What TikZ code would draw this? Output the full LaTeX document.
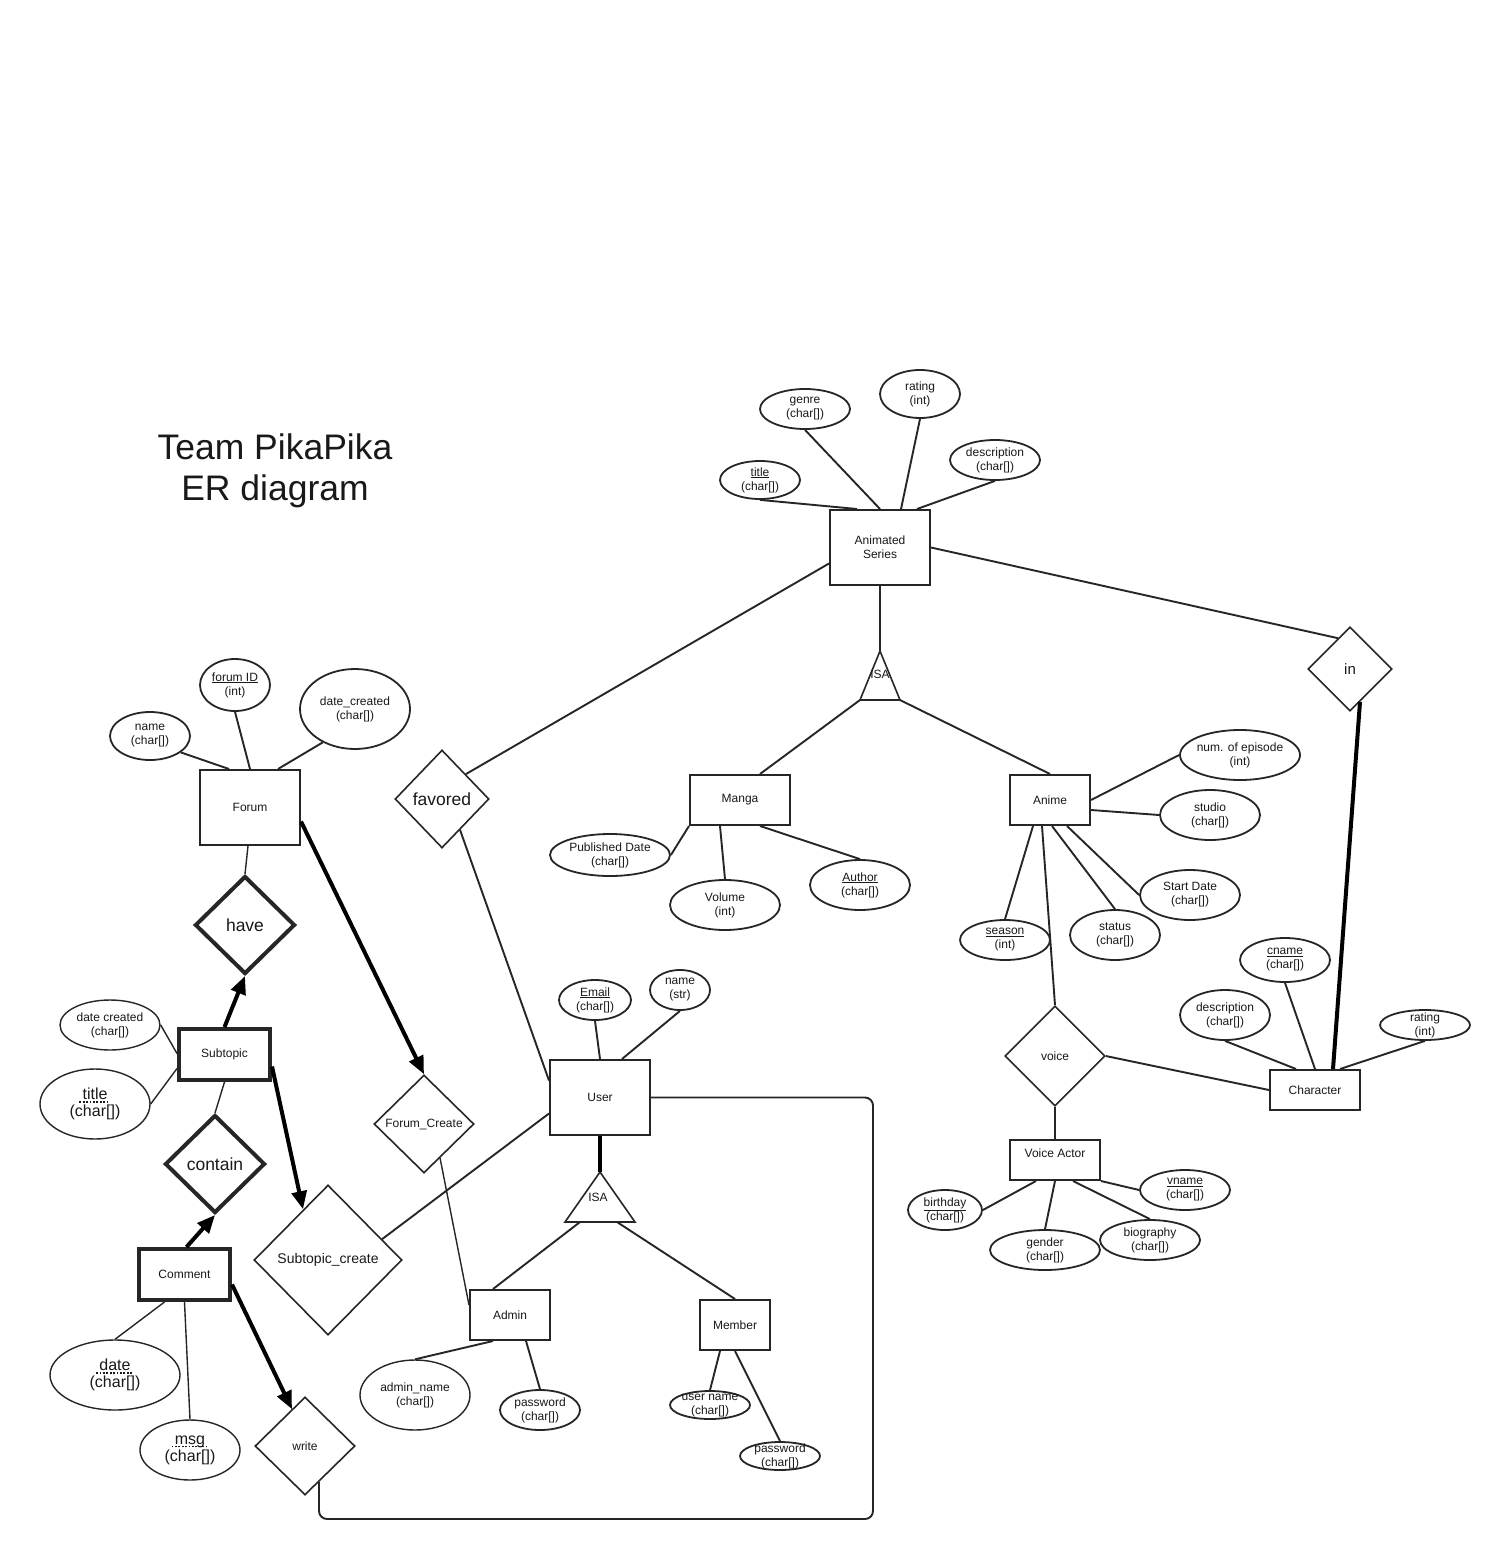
\documentclass[tikz,border=0pt]{standalone}
\usepackage{fontspec}
\setmainfont{Liberation Sans}
\usetikzlibrary{shapes.geometric,arrows.meta}
\newcommand\dotund[1]{\setbox0=\hbox{#1}\rlap{\kern-4pt\raisebox{-3.2pt}{\hbox to \dimexpr\wd0+8pt\relax{\leaders\hbox to 3.4pt{\hss\rule{1.8pt}{1.8pt}\hss}\hfill}}}\box0}
\newcommand\attrib[6][]{%
  \node[erattr,#1,minimum width=#4,minimum height=#5] (#2) at (#3) {};
  \node[align=center,#1] (#2t) at (#2) {#6};}
\begin{document}
\begin{tikzpicture}[x=1pt,y=-1pt,
  every node/.style={font=\fontsize{12}{14}\selectfont, text=black!90},
  erent/.style={rectangle, draw=black!85, line width=2pt, inner sep=0pt, align=center},
  wkent/.style={erent, line width=4pt},
  erattr/.style={ellipse, draw=black!85, line width=1.8pt, inner sep=0pt},
  thinattr/.style={line width=1.4pt},
  errel/.style={diamond, draw=black!85, line width=1.6pt, inner sep=0pt, align=center},
  bigrel/.style={errel, line width=4pt},
  erconn/.style={draw=black!85, line width=1.9pt},
  thinconn/.style={draw=black!85, line width=1.4pt},
  boldconn/.style={draw=black, line width=4pt},
  boldarr/.style={draw=black, line width=4pt, -{Triangle[length=18pt,width=15pt]}},
  isatri/.style={draw=black!85, line width=1.6pt, line join=miter},
  big/.style={font=\fontsize{17.5}{20}\selectfont},
  mid/.style={font=\fontsize{16}{17}\selectfont}
]
\path[use as bounding box, fill=white] (0,0) rectangle (1496,1544);

% title
\node[font=\fontsize{35.5}{41}\selectfont, align=center] (ttl) at (275,471) {Team PikaPika\\ER diagram};

% entities
\node[erent, minimum width=100, minimum height=75] (as) at (880,547.5) {Animated\\Series};
\node[erent, minimum width=100, minimum height=75] (forum) at (250,807.5) {Forum};
\node[erent, minimum width=100, minimum height=50] (manga) at (740,800) {Manga};
\node[erent, minimum width=80, minimum height=50] (anime) at (1050,800) {Anime};
\node[erent, minimum width=100, minimum height=75] (user) at (600,1097.5) {User};
\node[wkent, minimum width=91, minimum height=51] (sub) at (224.5,1054.5) {Subtopic};
\node[wkent, minimum width=91, minimum height=51] (com) at (184.5,1274.5) {Comment};
\node[erent, minimum width=80, minimum height=50] (admin) at (510,1315) {Admin};
\node[erent, minimum width=70, minimum height=50] (member) at (735,1325) {Member};
\node[erent, minimum width=90, minimum height=40] (ch) at (1315,1090) {Character};
\node[erent, minimum width=90, minimum height=40] (va) at (1055,1160) {};
\node (vat) at (1055,1153) {Voice Actor};

% relationships
\node[errel, minimum width=84, minimum height=84, font=\fontsize{15}{17}\selectfont] (inrel) at (1350,669) {in};
\node[errel, big, minimum width=94, minimum height=98] (fav) at (442,799) {favored};
\node[bigrel, big, minimum width=100, minimum height=98] (have) at (245,925) {have};
\node[bigrel, big, minimum width=100, minimum height=98] (contain) at (215,1164) {contain};
\node[errel, minimum width=100, minimum height=98] (fc) at (424,1124) {Forum\_Create};
\node[errel, font=\fontsize{14}{16}\selectfont, minimum width=148, minimum height=150] (sc) at (328,1260) {Subtopic\_create};
\node[errel, minimum width=100, minimum height=98] (write) at (305,1446) {write};
\node[errel, minimum width=100, minimum height=100] (voice) at (1055,1056) {voice};

% ISA triangles
\coordinate (isa1a) at (880,651);
\coordinate (isa1l) at (860,700);
\coordinate (isa1r) at (900,700);
\draw[isatri] (isa1a) -- (isa1l) -- (isa1r) -- cycle;
\node (isa1) at (880,674) {ISA};
\coordinate (isa2a) at (600,1172);
\coordinate (isa2l) at (565,1222);
\coordinate (isa2r) at (635,1222);
\coordinate (isa2p) at (580,1222);
\coordinate (isa2q) at (617,1222);
\draw[isatri] (isa2a) -- (isa2l) -- (isa2r) -- cycle;
\node (isa2) at (598,1197) {ISA};

% attributes
\attrib{title}{760,480}{80}{38}{\underline{title}\\(char[])}
\attrib{genre}{805,409}{90}{40}{genre\\(char[])}
\attrib{rating}{920,394}{80}{48}{rating\\(int)}
\attrib{desca}{995,460}{90}{40}{description\\(char[])}
\attrib{fname}{150,736}{80}{48}{name\\(char[])}
\attrib{fid}{235,685}{70}{52}{\underline{forum ID}\\(int)}
\attrib{fdate}{355,709}{110}{80}{date\_created\\(char[])}
\attrib{pdate}{610,855}{120}{42}{Published Date\\(char[])}
\attrib{vol}{725,905}{110}{50}{Volume\\(int)}
\attrib{author}{860,885}{100}{50}{\underline{Author}\\(char[])}
\attrib{nep}{1240,755}{120}{50}{num. of episode\\(int)}
\attrib{studio}{1210,815}{100}{50}{studio\\(char[])}
\attrib{sdt}{1190,895}{100}{50}{Start Date\\(char[])}
\attrib{stat}{1115,935}{90}{50}{status\\(char[])}
\attrib{season}{1005,940}{90}{40}{\underline{season}\\(int)}
\attrib{cname}{1285,960}{90}{44}{\underline{cname}\\(char[])}
\attrib{cdesc}{1225,1015}{90}{50}{description\\(char[])}
\attrib{crat}{1425,1025}{90}{30}{rating\\(int)}
\attrib{bday}{945,1210}{74}{40}{\underline{birthday}\\(char[])}
\attrib{gender}{1045,1250}{110}{40}{gender\\(char[])}
\attrib{bio}{1150,1240}{100}{40}{biography\\(char[])}
\attrib{vname}{1185,1190}{90}{40}{\underline{vname}\\(char[])}
\attrib[thinattr]{sdate}{110,1025}{100}{50}{date created\\(char[])}
\attrib[thinattr,mid]{stitle}{95,1104}{110}{70}{\dotund{title}\\(char[])}
\attrib[thinattr,mid]{cdate}{115,1375}{130}{70}{\dotund{date}\\(char[])}
\attrib[thinattr,mid]{msg}{190,1450}{100}{60}{\dotund{msg}\\(char[])}
\attrib[thinattr]{aname}{415,1395}{110}{70}{admin\_name\\(char[])}
\attrib{apw}{540,1410}{80}{40}{password\\(char[])}
\attrib{mun}{710,1405}{80}{28}{user name\\(char[])}
\attrib{mpw}{780,1456}{80}{28}{password\\(char[])}
\attrib{email}{595,1000}{72}{40}{\underline{Email}\\(char[])}
\attrib{uname}{680,990}{60}{40}{name\\(str)}

% connectors: Animated Series
\draw[erconn] (title.south) -- ([xshift=28pt]as.north west);
\draw[erconn] (genre.south) -- (as.north);
\draw[erconn] (rating.south) -- ([xshift=21pt]as.north);
\draw[erconn] (desca.south) -- ([xshift=37pt]as.north);
\draw[erconn] ([yshift=-16pt]as.west) -- (fav.north east);
\draw[erconn] (as.south) -- (isa1a);
\draw[erconn] (as.east) -- ([xshift=-12pt,yshift=-12pt]inrel.north);
\draw[boldconn] ([xshift=10pt,yshift=10pt]inrel.south) -- ([xshift=18pt]ch.north);
\draw[erconn] (isa1l) -- ([xshift=20pt]manga.north);
\draw[erconn] (isa1r) -- (anime.north);
% Manga
\draw[erconn] (manga.south west) -- (pdate.east);
\draw[erconn] ([xshift=-20pt]manga.south) -- (vol.north);
\draw[erconn] ([xshift=20pt]manga.south) -- (author.north);
% Anime
\draw[erconn] (anime.east) -- (nep.west);
\draw[erconn] ([yshift=-10pt]anime.east) -- (studio.west);
\draw[erconn] ([xshift=17pt]anime.south) -- (sdt.west);
\draw[erconn] ([xshift=2pt]anime.south) -- (stat.north);
\draw[erconn] ([xshift=-17pt]anime.south) -- (season.north);
\draw[erconn] ([xshift=-8pt]anime.south) -- (voice.north);
% voice / Character / Voice Actor
\draw[erconn] (voice.east) -- (ch.west);
\draw[erconn] (voice.south) -- (va.north);
\draw[erconn] (ch.north) -- (cname.south);
\draw[erconn] ([xshift=-19pt]ch.north) -- (cdesc.south);
\draw[erconn] ([xshift=25pt]ch.north) -- (crat.south);
\draw[erconn] ([xshift=-19pt]va.south) -- (bday.east);
\draw[erconn] (va.south) -- (gender.north);
\draw[erconn] ([xshift=18pt]va.south) -- (bio.north);
\draw[erconn] (va.south east) -- (vname.west);
% Forum
\draw[erconn] ([xshift=-21pt]forum.north) -- (fname.-28);
\draw[erconn] (forum.north) -- (fid.south);
\draw[erconn] ([xshift=28pt]forum.north) -- (fdate.-134);
\draw[thinconn] ([xshift=-2pt]forum.south) -- (have.north);
\draw[boldarr] ([yshift=-14pt]forum.east) -- (fc.north);
% Subtopic
\draw[boldarr] (sub.north) -- (have.south);
\draw[thinconn] (sdate.east) -- ([yshift=1pt]sub.west);
\draw[thinconn] (stitle.east) -- ([yshift=-14pt]sub.west);
\draw[boldarr] ([yshift=-12pt]sub.east) -- ([xshift=-25pt,yshift=-25pt]sc.north);
\draw[thinconn] (sub.south) -- (contain.north);
% Comment
\draw[boldarr] ([xshift=2pt]com.north) -- (contain.south);
\draw[thinconn] ([xshift=-20pt]com.south) -- (cdate.north);
\draw[thinconn] (com.south) -- (msg.north);
\draw[boldarr] ([yshift=-10pt]com.east) -- ([xshift=-13pt,yshift=-13pt]write.north);
% write loop to User
\coordinate (loopbr) at (873,1519);
\draw[erconn, rounded corners=8pt] ([xshift=14pt,yshift=14pt]write.south) |- (loopbr) |- (user.east);
% User
\draw[erconn] (user.north) -- (email.south);
\draw[erconn] ([xshift=22pt]user.north) -- (uname.south);
\draw[erconn] ([yshift=17pt]user.west) -- ([xshift=18pt,yshift=19pt]fav.south);
\draw[erconn] ([yshift=-16pt]user.west) -- ([xshift=54pt,yshift=-55pt]sc.north);
\draw[boldconn] (user.south) -- (isa2a);
\draw[erconn] (isa2p) -- ([xshift=-17pt]admin.north);
\draw[erconn] (isa2q) -- (member.north);
\draw[thinconn] ([xshift=16pt,yshift=16pt]fc.south) -- ([yshift=10pt]admin.west);
% Admin / Member
\draw[erconn] ([xshift=-17pt]admin.south) -- (aname.north);
\draw[erconn] ([xshift=16pt]admin.south) -- (apw.north);
\draw[erconn] ([xshift=-15pt]member.south) -- (mun.north);
\draw[erconn] (member.south) -- (mpw.north);
\end{tikzpicture}
\end{document}
